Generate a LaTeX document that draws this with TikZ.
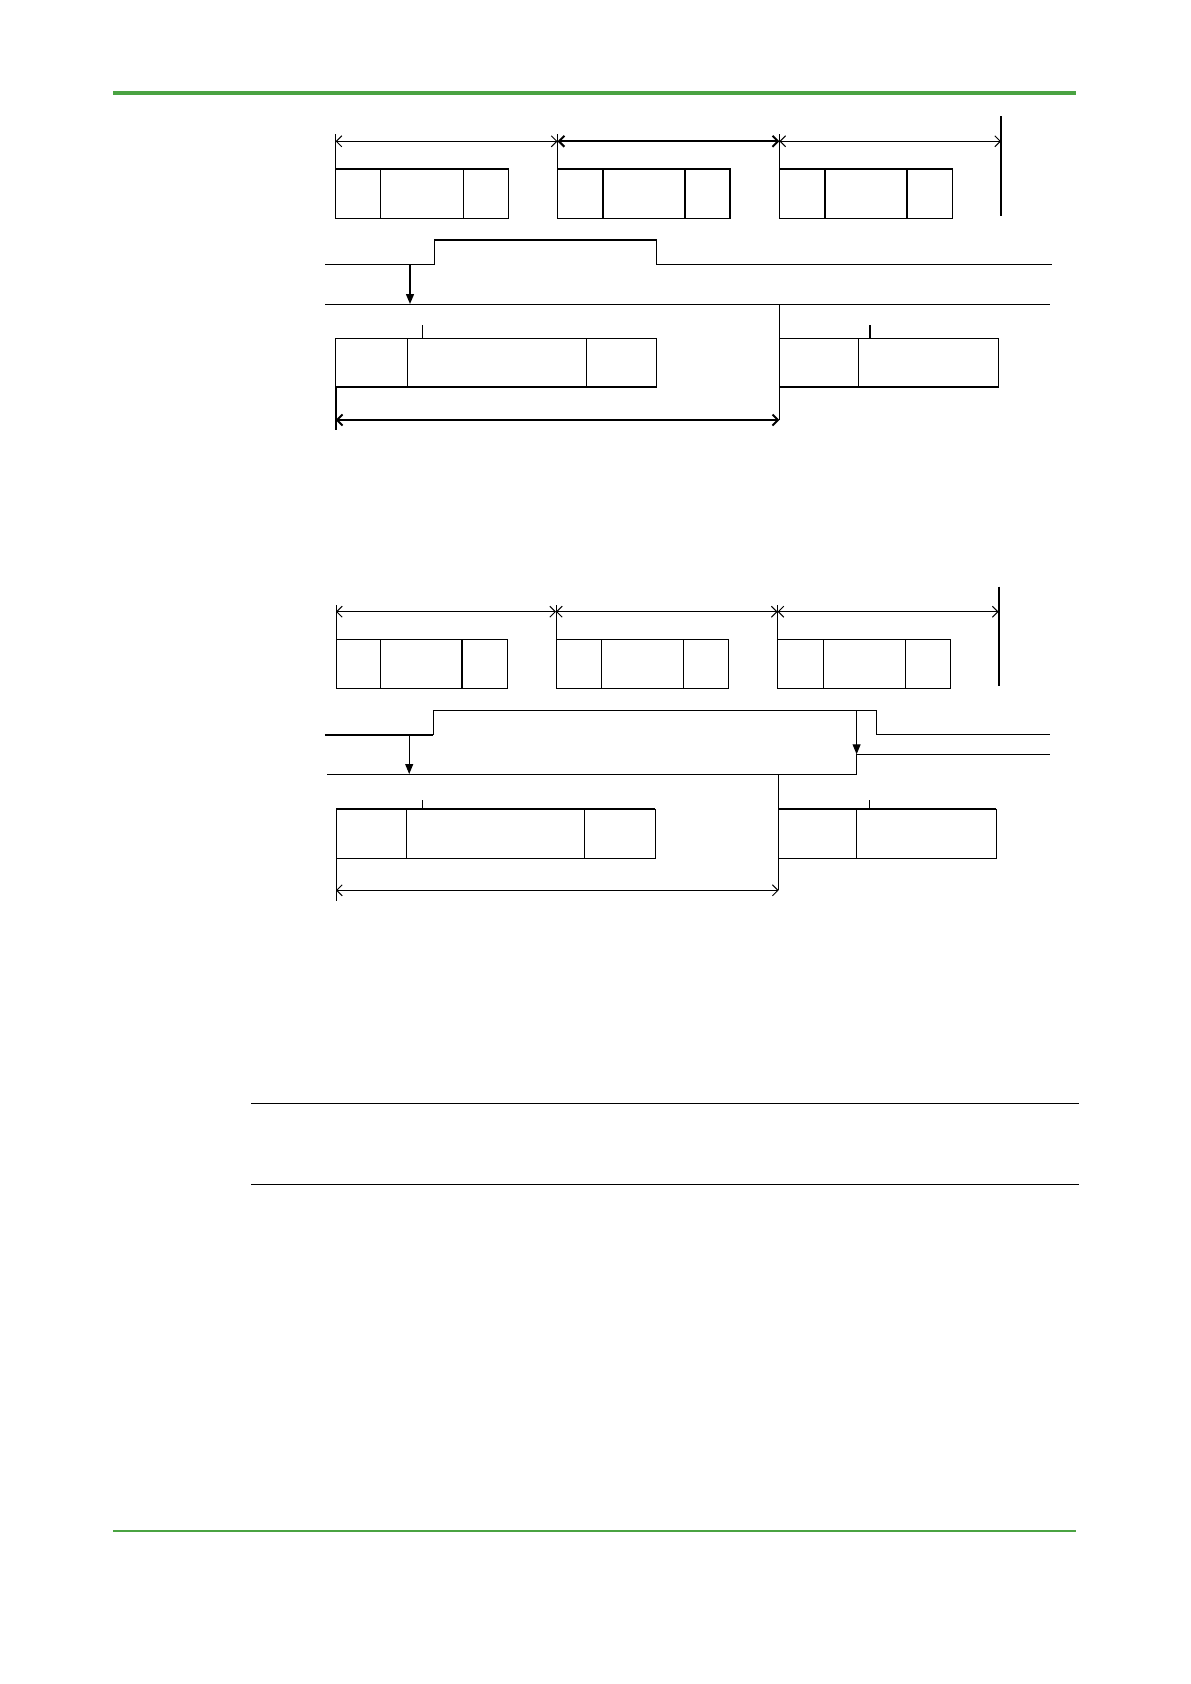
\documentclass[tikz,border=0pt]{standalone}
\usetikzlibrary{arrows.meta}
\definecolor{hdrgreen}{RGB}{74,163,66}
\begin{document}
\begin{tikzpicture}[x=1pt,y=-1pt,
  thinln/.style={line width=1pt,black},
  medln/.style={line width=1.4pt,black},
  thickln/.style={line width=2pt,black},
  dimarrow/.style={line width=1pt,{Straight Barb[length=5.5pt,width=11pt]}-{Straight Barb[length=5.5pt,width=11pt]}},
  sigarrow/.style={line width=1.4pt,-{Triangle[length=10pt,width=8pt]}},
  greenrule/.style={hdrgreen}
]
\useasboundingbox (0,0) rectangle (1191,1684);
\fill[white] (0,0) rectangle (1191,1684);

% page rules
\draw[greenrule,line width=3.7pt] (113,92.7) -- (1076,92.7);
\draw[greenrule,line width=2pt] (113,1530.7) -- (1076,1530.7);
\draw[line width=1.3pt] (251.3,1103.3) -- (1079.4,1103.3);
\draw[line width=1.3pt] (251.3,1184.5) -- (1079.4,1184.5);

% ================= diagram 1 =================
\coordinate (a1) at (335.6,141.3);
\coordinate (a2) at (557.5,141.3);
\coordinate (a3) at (779.4,141.3);
\coordinate (a4) at (1001,141.3);
\draw[dimarrow] (a1) -- (a2);
\draw[dimarrow,line width=2pt] (a2) -- (a3);
\draw[dimarrow] (a3) -- (a4);
\draw[thinln] (335.6,134) -- (335.6,169);
\draw[thinln] (557.5,134) -- (557.5,169);
\draw[thinln] (779.4,134) -- (779.4,169);
\draw[thickln] (1001,116) -- (1001,215.7);

% boxes row 1
\foreach \xa/\xb/\xc/\xd in {335.6/380.7/463.3/508.4, 557.5/603/685/730, 779.4/825/907/952.6}{
  \draw[medln] (\xa,169) rectangle (\xd,218.3);
  \draw[thickln] (\xa,169) -- (\xd,169);
  \draw[medln] (\xb,169) -- (\xb,218.3);
  \draw[medln] (\xc,169) -- (\xc,218.3);
}

% waveform
\draw[medln] (325.4,264.3) -- (434.7,264.3) -- (434.7,240) -- (656.6,240) -- (656.6,264.3) -- (1052,264.3);
\coordinate (s1) at (410,264.3);
\coordinate (t1) at (410,304);
\draw[sigarrow] (s1) -- (t1);
\draw[thinln] (325,304) -- (1050,304);
\draw[thinln] (779.4,304) -- (779.4,420);

% lower boxes
\draw[medln] (335.6,338.7) rectangle (656.6,387.3);
\draw[thickln] (335.6,387.3) -- (656.6,387.3);
\draw[thinln] (407.5,338.7) -- (407.5,387.3);
\draw[thinln] (586,338.7) -- (586,387.3);
\draw[medln] (779.4,338.7) -- (998.6,338.7) -- (998.6,387.3) -- (779.4,387.3);
\draw[thickln] (779.4,387.3) -- (998.6,387.3);
\draw[thinln] (858.4,338.7) -- (858.4,387.3);
\draw[medln] (422.7,325) -- (422.7,338.7);
\draw[medln] (870,325) -- (870,338.7);

\coordinate (b1) at (335.6,420);
\coordinate (b2) at (779.4,420);
\draw[dimarrow,line width=2pt] (b1) -- (b2);
\draw[thickln] (335.6,387.3) -- (335.6,430);

% ================= diagram 2 =================
\coordinate (c1) at (336,611.7);
\coordinate (c2) at (556,611.7);
\coordinate (c3) at (777.6,611.7);
\coordinate (c4) at (998.6,611.7);
\draw[dimarrow] (c1) -- (c2);
\draw[dimarrow] (c2) -- (c3);
\draw[dimarrow] (c3) -- (c4);
\draw[thinln] (336,605) -- (336,639.7);
\draw[thinln] (556,605) -- (556,639.7);
\draw[thinln] (777.6,605) -- (777.6,639.7);
\draw[thickln] (998.6,586.7) -- (998.6,685.7);

\foreach \xa/\xb/\xc/\xd in {336/380.6/462/507.6, 556/601.6/683.6/728.6, 777.6/823.6/905.6/950}{
  \draw[thinln] (\xa,639.7) rectangle (\xd,688.3);
  \draw[thinln] (\xb,639.7) -- (\xb,688.3);
  \draw[medln] (\xc,639.7) -- (\xc,688.3);
}

% waveforms
\draw[thickln] (324.8,734.7) -- (433.4,734.7);
\draw[thinln] (433.4,734.7) -- (433.4,710.3) -- (876.5,710.3) -- (876.5,734.7);
\draw[medln] (876.5,734.7) -- (1049.5,734.7);
\coordinate (s2) at (409.2,734.7);
\coordinate (t2) at (409.2,774);
\draw[sigarrow,line width=1pt] (s2) -- (t2);
\coordinate (s3) at (856.6,710.3);
\coordinate (t3) at (856.6,754.3);
\draw[sigarrow,line width=1pt] (s3) -- (t3);
\draw[thinln] (327,774) -- (856.6,774) -- (856.6,754.3) -- (1049.5,754.3);
\draw[thinln] (778.6,774) -- (778.6,890.3);

% lower boxes
\draw[thinln] (336,809) rectangle (655.4,858.3);
\draw[thickln] (336,809) -- (655.4,809);
\draw[thinln] (406.3,809) -- (406.3,858.3);
\draw[thinln] (584.7,809) -- (584.7,858.3);
\draw[thinln] (778.6,809) -- (996.2,809) -- (996.2,858.3) -- (778.6,858.3);
\draw[thickln] (778.6,809) -- (996.2,809);
\draw[thinln] (856.6,809) -- (856.6,858.3);
\draw[thinln] (422.3,800) -- (422.3,809);
\draw[thinln] (869.7,800) -- (869.7,809);

\coordinate (e1) at (336,890.3);
\coordinate (e2) at (778.6,890.3);
\draw[dimarrow] (e1) -- (e2);
\draw[thinln] (336,858.3) -- (336,900.7);
\end{tikzpicture}
\end{document}
